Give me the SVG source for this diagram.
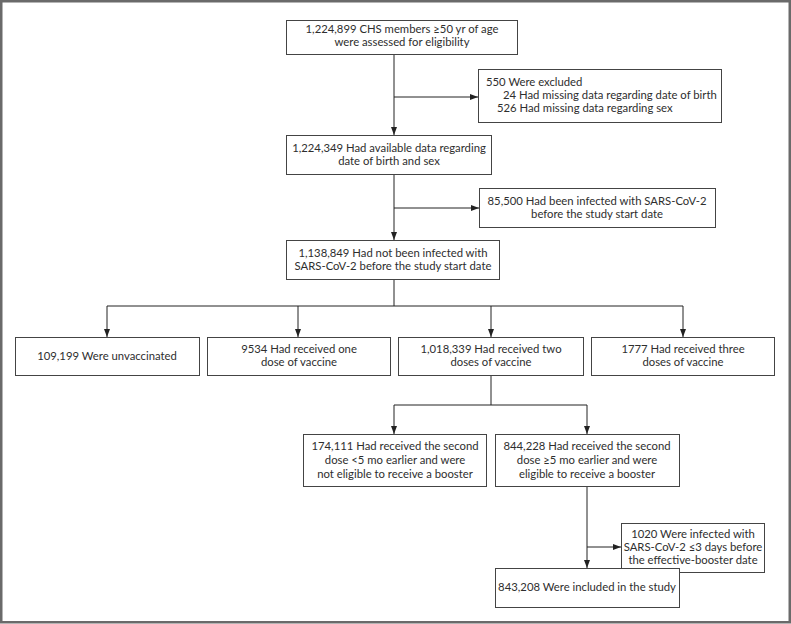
<svg xmlns="http://www.w3.org/2000/svg" width="791" height="624" viewBox="0 0 791 624">
<defs>
<marker id="ah" markerWidth="8" markerHeight="6" refX="8" refY="3" orient="auto" markerUnits="userSpaceOnUse">
<path d="M0,0 L8,3 L0,6 Z" fill="#222"/>
</marker>
<style>
.box{fill:#fff;stroke:#444;stroke-width:1}
.t{font-family:"Lato","Liberation Sans",sans-serif;font-size:11.3px;fill:#2e2e2e;text-anchor:middle}
.l{text-anchor:start}
.c{fill:none;stroke:#222;stroke-width:1}
.a{fill:none;stroke:#222;stroke-width:1;marker-end:url(#ah)}
</style>
</defs>
<rect x="1.25" y="1.25" width="788.5" height="621" fill="#fff" stroke="#6a6a6a" stroke-width="2.5"/>
<g id="connectors">
<path class="a" d="M394,54 V135"/>
<path class="a" d="M394,97 H478"/>
<path class="a" d="M394,174 V240"/>
<path class="a" d="M394,208 H479"/>
<path class="c" d="M394,279 V306 M107,306 H683"/>
<path class="a" d="M107,306 V337"/>
<path class="a" d="M298,306 V337"/>
<path class="a" d="M491,306 V337"/>
<path class="a" d="M683,306 V337"/>
<path class="c" d="M491,375 V405 M394,405 H587"/>
<path class="a" d="M394,405 V434"/>
<path class="a" d="M587,405 V434"/>
<path class="a" d="M587,486 V568"/>
<path class="a" d="M587,547 H621"/>
</g>
<g id="n1"><rect class="box" x="286.5" y="20.5" width="231" height="34"/>
<text class="t" x="402" y="33">1,224,899 CHS members ≥50 yr of age</text>
<text class="t" x="402" y="46">were assessed for eligibility</text></g>
<g id="x1"><rect class="box" x="478.5" y="69.5" width="243" height="53"/>
<text class="t l" x="486" y="86">550 Were excluded</text>
<text class="t l" x="503" y="99">24 Had missing data regarding date of birth</text>
<text class="t l" x="497" y="112">526 Had missing data regarding sex</text></g>
<g id="n2"><rect class="box" x="286.5" y="135.5" width="205" height="39"/>
<text class="t" x="389" y="152">1,224,349 Had available data regarding</text>
<text class="t" x="389" y="165">date of birth and sex</text></g>
<g id="x2"><rect class="box" x="479.5" y="188.5" width="236" height="39"/>
<text class="t" x="597" y="205">85,500 Had been infected with SARS-CoV-2</text>
<text class="t" x="597" y="218">before the study start date</text></g>
<g id="n3"><rect class="box" x="286.5" y="240.5" width="213" height="39"/>
<text class="t" x="393" y="257">1,138,849 Had not been infected with</text>
<text class="t" x="393" y="270">SARS-CoV-2 before the study start date</text></g>
<g id="nA"><rect class="box" x="15.5" y="337.5" width="184" height="38"/>
<text class="t" x="107" y="360">109,199 Were unvaccinated</text></g>
<g id="nB"><rect class="box" x="207.5" y="337.5" width="183" height="38"/>
<text class="t" x="299" y="353">9534 Had received one</text>
<text class="t" x="299" y="366">dose of vaccine</text></g>
<g id="nC"><rect class="box" x="398.5" y="337.5" width="185" height="38"/>
<text class="t" x="491" y="353">1,018,339 Had received two</text>
<text class="t" x="491" y="366">doses of vaccine</text></g>
<g id="nD"><rect class="box" x="591.5" y="337.5" width="183" height="38"/>
<text class="t" x="683" y="353">1777 Had received three</text>
<text class="t" x="683" y="366">doses of vaccine</text></g>
<g id="nE"><rect class="box" x="303.5" y="434.5" width="183" height="52"/>
<text class="t" x="395" y="450">174,111 Had received the second</text>
<text class="t" x="395" y="464">dose &lt;5 mo earlier and were</text>
<text class="t" x="395" y="478">not eligible to receive a booster</text></g>
<g id="nF"><rect class="box" x="495.5" y="434.5" width="184" height="52"/>
<text class="t" x="587" y="450">844,228 Had received the second</text>
<text class="t" x="587" y="464">dose ≥5 mo earlier and were</text>
<text class="t" x="587" y="478">eligible to receive a booster</text></g>
<g id="xG"><rect class="box" x="621.5" y="523.5" width="143" height="49"/>
<text class="t" x="693" y="538">1020 Were infected with</text>
<text class="t" x="693" y="551">SARS-CoV-2 ≤3 days before</text>
<text class="t" x="693" y="564">the effective-booster date</text></g>
<g id="nH"><rect class="box" x="495.5" y="568.5" width="184" height="39"/>
<text class="t" x="587" y="591">843,208 Were included in the study</text></g>
</svg>
